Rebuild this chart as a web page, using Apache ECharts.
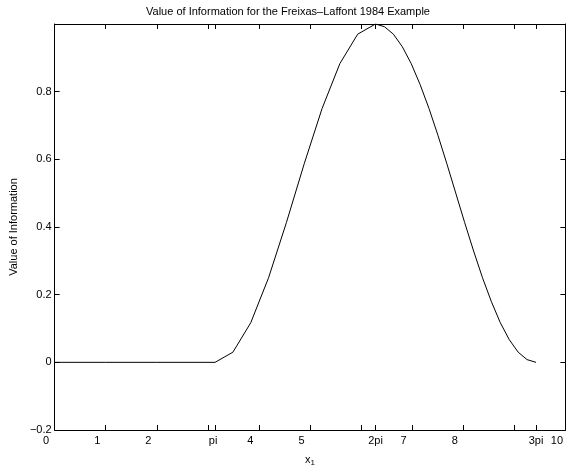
<!DOCTYPE html>
<html>
<head>
<meta charset="utf-8">
<script src="https://cdn.jsdelivr.net/npm/echarts@6/dist/echarts.min.js"></script>
<style>html,body{margin:0;padding:0;background:#fff;}#c{width:566px;height:472px;}</style>
</head>
<body>
<div id="c"></div>
<script>
// Curve samples (x1, value of information)
var xValues = [0, 1.0, 2.0, 3.1416, 3.4907, 3.8397, 4.1888, 4.5379, 4.8869, 5.2360, 5.5851, 5.9341, 6.2832,
  6.4577, 6.6323, 6.8068, 6.9813, 7.1558, 7.3304, 7.5049, 7.6794, 7.8540, 8.0285, 8.2030, 8.3776,
  8.5521, 8.7266, 8.9012, 9.0757, 9.2502, 9.4248];
var yValues = [0, 0, 0, 0, 0.030, 0.117, 0.250, 0.413, 0.587, 0.750, 0.883, 0.970, 1.000,
  0.992, 0.970, 0.933, 0.883, 0.821, 0.750, 0.671, 0.587, 0.500, 0.413, 0.329, 0.250,
  0.179, 0.117, 0.067, 0.030, 0.008, 0];
// X tick positions and their labels
var xTickValues = [0, 1, 2, 3, 3.14159265, 4, 5, 6, 6.28318531, 7, 8, 9, 9.42477796, 10];
var xLabelValues = [0, 1, 2, 3.14159265, 4, 5, 6.28318531, 7, 8, 9.42477796, 10];
var xLabelTexts = ['0', '1', '2', 'pi', '4', '5', '2pi', '7', '8', '3pi', '10'];
var yLabelTexts = {'-0.2': '\u22120.2', '0': '0', '0.2': '0.2', '0.4': '0.4', '0.6': '0.6', '0.8': '0.8', '1': ''};

var FONT = 'Liberation Sans, Arial, Helvetica, sans-serif';
var data = xValues.map(function (x, i) { return [x, yValues[i]]; });

function xLabel(v) {
  for (var i = 0; i < xLabelValues.length; i++) {
    if (Math.abs(xLabelValues[i] - v) < 1e-6) {
      var t = xLabelTexts[i];
      if (t.indexOf('pi') >= 0) return t === 'pi' ? '{p|' + t + '}' : '{q|' + t + '}';
      return '{n|' + t + '}';
    }
  }
  return '';
}

var chart = echarts.init(document.getElementById('c'), null, {renderer: 'canvas'});
var axisLine = {show: true, onZero: false, lineStyle: {color: '#000', width: 1}};
var tick = {show: true, inside: true, length: 5, lineStyle: {color: '#000', width: 1}};
chart.setOption({
  animation: false,
  backgroundColor: '#fff',
  grid: {left: 52, top: 24, width: 517, height: 406},
  graphic: [{
    type: 'text', x: 288, y: 12,
    style: {text: 'Value of Information for the Freixas\u2013Laffont 1984 Example', font: '11px ' + FONT, fill: '#000', align: 'center', verticalAlign: 'middle'}
  }],
  xAxis: [{
    type: 'value', min: 0, max: 10, position: 'bottom',
    axisLine: axisLine,
    axisTick: Object.assign({customValues: xTickValues}, tick),
    splitLine: {show: false},
    axisLabel: {
      customValues: xLabelValues, margin: 5, color: '#000', fontFamily: FONT, fontSize: 11,
      formatter: xLabel,
      rich: {
        n: {fontFamily: FONT, fontSize: 11, color: '#000', padding: [0, 17, 0, 0]},
        p: {fontFamily: FONT, fontSize: 11, color: '#000', padding: [0, 4, 0, 0]},
        q: {fontFamily: FONT, fontSize: 11, color: '#000'}
      }
    },
    name: '{x|x}{s|1}', nameLocation: 'middle', nameGap: 22,
    nameTextStyle: {rich: {x: {fontFamily: FONT, fontSize: 11, color: '#000'}, s: {fontFamily: FONT, fontSize: 8, color: '#000', padding: [7, 0, 0, 0]}}}
  }, {
    type: 'value', min: 0, max: 10, position: 'top',
    axisLine: axisLine,
    axisTick: Object.assign({customValues: xTickValues}, tick),
    axisLabel: {show: false}, splitLine: {show: false}
  }],
  yAxis: [{
    type: 'value', min: -0.2, max: 1.0, interval: 0.2, position: 'left',
    axisLine: axisLine, axisTick: tick, splitLine: {show: false},
    axisLabel: {
      margin: 3, color: '#000', fontFamily: FONT, fontSize: 11,
      formatter: function (v) { var k = String(Math.round(v * 10) / 10); return yLabelTexts[k] !== undefined ? yLabelTexts[k] : k; }
    },
    name: 'Value of Information', nameLocation: 'middle', nameGap: 27,
    nameTextStyle: {fontFamily: FONT, fontSize: 11, color: '#000'}
  }, {
    type: 'value', min: -0.2, max: 1.0, interval: 0.2, position: 'right',
    axisLine: axisLine, axisTick: tick, splitLine: {show: false}, axisLabel: {show: false}
  }],
  series: [{
    type: 'line', data: data, xAxisIndex: 0, yAxisIndex: 0,
    showSymbol: false, symbol: 'none', smooth: false,
    lineStyle: {color: '#000', width: 1}
  }]
});
</script>
</body>
</html>
